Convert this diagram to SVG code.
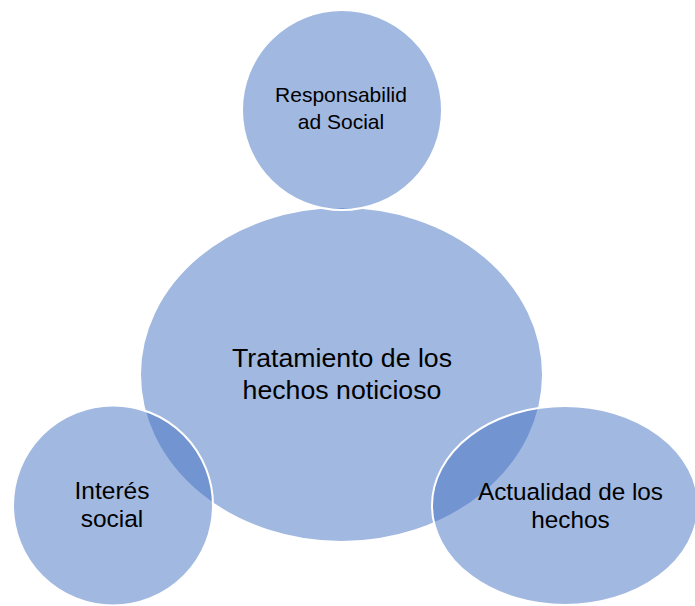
<svg xmlns="http://www.w3.org/2000/svg" width="695" height="606" viewBox="0 0 695 606">
<style>
.shape{fill:rgba(68,114,196,0.5);stroke:#ffffff;stroke-width:2}
.lbl{font-family:"Liberation Sans",Arial,sans-serif;fill:#000000;text-anchor:middle}
</style>
<rect width="695" height="606" fill="#ffffff"/>
<g id="node-tratamiento">
<ellipse class="shape" cx="341.5" cy="374.5" rx="201.5" ry="167.5"/>
<text class="lbl" font-size="26.7" x="342" y="367">Tratamiento de los</text>
<text class="lbl" font-size="26.7" x="342" y="398.5">hechos noticioso</text>
</g>
<g id="node-responsabilidad">
<circle class="shape" cx="342" cy="110" r="100"/>
<text class="lbl" font-size="21" x="341" y="102">Responsabilid</text>
<text class="lbl" font-size="21" x="341" y="129">ad Social</text>
</g>
<g id="node-interes">
<circle class="shape" cx="113" cy="505.5" r="100"/>
<text class="lbl" font-size="24.5" x="112" y="499">Interés</text>
<text class="lbl" font-size="24.5" x="112" y="527">social</text>
</g>
<g id="node-actualidad">
<ellipse class="shape" cx="565" cy="505.5" rx="133" ry="99.5"/>
<text class="lbl" font-size="24.3" x="570.5" y="500">Actualidad de los</text>
<text class="lbl" font-size="24.3" x="570.5" y="528">hechos</text>
</g>
<g id="connectors"></g>
</svg>
